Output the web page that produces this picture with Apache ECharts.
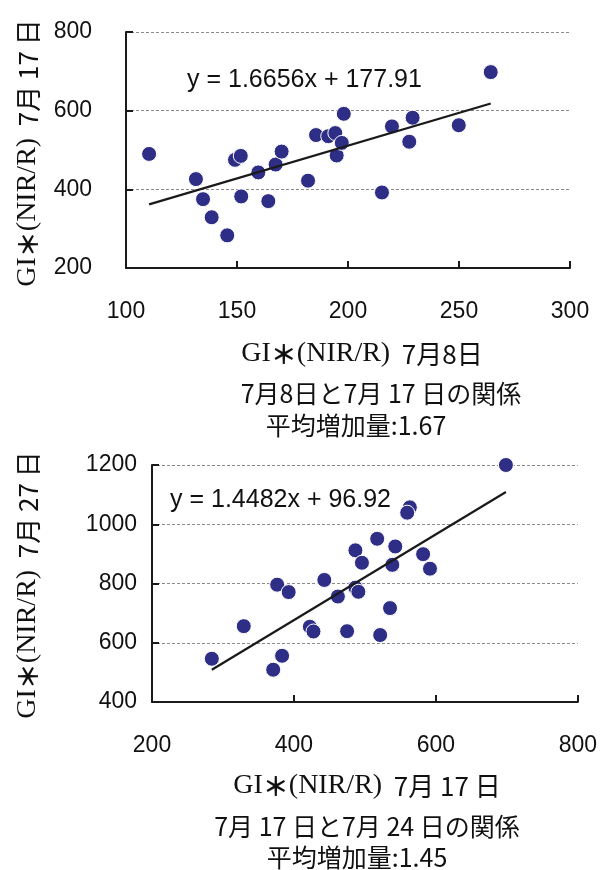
<!DOCTYPE html>
<html>
<head>
<meta charset="utf-8">
<script src="https://cdn.jsdelivr.net/npm/echarts@6/dist/echarts.min.js"></script>
<style>
html, body { margin: 0; padding: 0; background: #fff; }
#chart { width: 600px; height: 870px; }
</style>
</head>
<body>
<div id="chart"></div>
<script>
// GI*(NIR/R) per plot: 8 July vs 17 July
const jul8 = [110.4, 131.5, 134.7, 138.6, 145.6, 149.1, 151.7, 151.9, 159.6, 167.4, 170.1, 164.1, 182.0,
  185.6, 191.1, 194.3, 194.9, 197.2, 198.1, 215.3, 219.8, 227.6, 229.1, 249.9, 264.3];
const jul17a = [490, 426, 375, 329, 283, 475, 485, 382, 443, 463, 496, 370, 422,
  538, 535, 543, 486, 518, 592, 392, 560, 521, 582, 563, 698];
const slopeA = 1.6656, interceptA = 177.91;

// GI*(NIR/R) per plot: 17 July vs 27 July
const jul17b = [698.7, 563.3, 559.6, 517.3, 486.6, 542.8, 495.8, 582.0, 538.6, 591.7, 376.4, 392.6, 442.8,
  461.9, 486.6, 490.8, 535.4, 329.3, 422.4, 427.5, 474.9, 521.5, 284.3, 383.3, 370.8];
const jul27 = [1200, 1057, 1039, 951, 912, 925, 870, 899, 863, 850, 796, 771, 812,
  756, 786, 772, 717, 656, 654, 638, 639, 626, 546, 556, 509];
const slopeB = 1.4482, interceptB = 96.92;

// axis tick values
const xTicksA = [100, 150, 200, 250, 300];
const yTicksA = [200, 400, 600, 800];
const xTicksB = [200, 400, 600, 800];
const yTicksB = [400, 600, 800, 1000, 1200];

const SANS = "'Liberation Sans', 'Noto Sans CJK JP', sans-serif";
const CJK = "'Noto Sans CJK JP', 'Liberation Sans', sans-serif";
const SERIF = "'Liberation Serif', 'Noto Sans CJK JP', serif";
const DOT = '#2e2e86';
const INK = '#1a1a1a';

function zip(xs, ys) { return xs.map((x, i) => [x, ys[i]]); }
function trend(xs, m, b) {
  const lo = Math.min(...xs), hi = Math.max(...xs);
  return [[lo, m * lo + b], [hi, m * hi + b]];
}
function valueAxis(ticks, gridIndex, isY, margin) {
  return {
    type: 'value', gridIndex,
    min: ticks[0], max: ticks[ticks.length - 1], interval: ticks[1] - ticks[0],
    axisLine: { show: true, onZero: false, lineStyle: { color: INK, width: 2 } },
    axisTick: { show: true, inside: true, length: 7, lineStyle: { color: INK, width: 2 } },
    axisLabel: { color: '#111', fontFamily: SANS, fontSize: 23, margin, formatter: v => String(v) },
    splitLine: isY ? { show: true, lineStyle: { color: '#8a8a8a', width: 1, type: [3, 2] } } : { show: false }
  };
}
// axis title: serif "GI＊(NIR/R)" followed by the date in gothic
function nameText(x, y, date, rot) {
  return {
    type: 'text', x, y, rotation: rot || 0, z: 10,
    style: {
      text: '{a|GI}{s|＊}{a|(NIR/R)}{b|  ' + date + '}',
      align: 'center', verticalAlign: 'middle',
      rich: {
        a: { fontFamily: SERIF, fontSize: 28, fill: '#111' },
        s: { fontFamily: CJK, fontSize: 26, fontWeight: 'bold', fill: '#111' },
        b: { fontFamily: CJK, fontSize: 26, fill: '#111' }
      }
    }
  };
}
function plainText(x, y, text, size, align, family) {
  return {
    type: 'text', x, y, z: 10,
    style: { text, fontFamily: family || CJK, fontSize: size, fill: '#111', align: align || 'center', verticalAlign: 'middle' }
  };
}

const chart = echarts.init(document.getElementById('chart'), null, { renderer: 'canvas' });
chart.setOption({
  backgroundColor: '#fff',
  animation: false,
  grid: [
    { left: 126, top: 32, width: 444, height: 236 },
    { left: 152, top: 465, width: 430, height: 237 }
  ],
  xAxis: [valueAxis(xTicksA, 0, false, 32), valueAxis(xTicksB, 1, false, 32)],
  yAxis: [valueAxis(yTicksA, 0, true, 34), valueAxis(yTicksB, 1, true, 15)],
  series: [
    {
      type: 'scatter', xAxisIndex: 0, yAxisIndex: 0, data: zip(jul8, jul17a),
      symbolSize: 15, itemStyle: { color: DOT, borderColor: '#fff', borderWidth: 1, opacity: 1 }, z: 2
    },
    {
      type: 'line', xAxisIndex: 0, yAxisIndex: 0, data: trend(jul8, slopeA, interceptA),
      symbol: 'none', lineStyle: { color: INK, width: 2.2 }, z: 3
    },
    {
      type: 'scatter', xAxisIndex: 1, yAxisIndex: 1, data: zip(jul17b, jul27),
      symbolSize: 15, itemStyle: { color: DOT, borderColor: '#fff', borderWidth: 1, opacity: 1 }, z: 2
    },
    {
      type: 'line', xAxisIndex: 1, yAxisIndex: 1, data: trend(jul17b, slopeB, interceptB),
      symbol: 'none', lineStyle: { color: INK, width: 2.2 }, z: 3
    }
  ],
  graphic: [
    plainText(187, 80, 'y = ' + slopeA + 'x + ' + interceptA, 25, 'left', SANS),
    nameText(362, 354, '7月8日'),
    plainText(381, 393, '7月8日と7月 17 日の関係', 25),
    plainText(356, 425, '平均増加量:' + slopeA.toFixed(2), 25),
    nameText(28, 153, '7月 17 日', Math.PI / 2),

    plainText(170, 500, 'y = ' + slopeB + 'x + ' + interceptB, 25, 'left', SANS),
    nameText(367, 786, '7月 17 日'),
    plainText(367, 826, '7月 17 日と7月 24 日の関係', 25),
    plainText(357, 857, '平均増加量:' + slopeB.toFixed(2), 25),
    nameText(28, 585, '7月 27 日', Math.PI / 2)
  ]
});
</script>
</body>
</html>
